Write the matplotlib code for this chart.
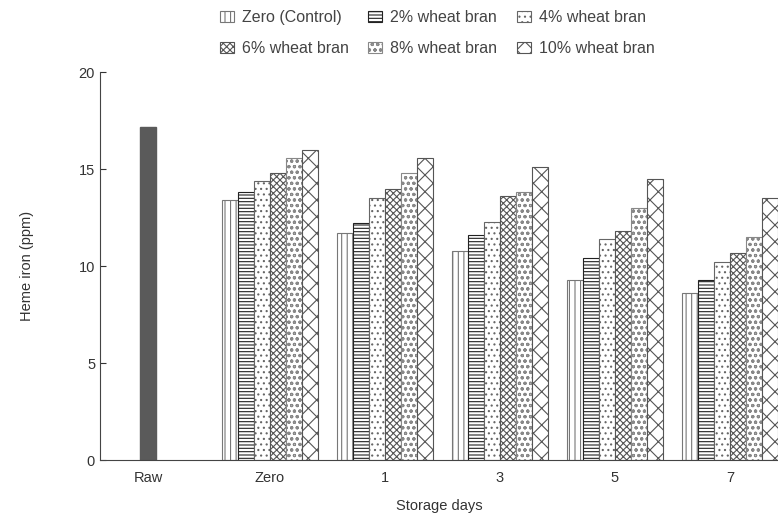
import numpy as np
import matplotlib
matplotlib.use("Agg")
import matplotlib.pyplot as plt

plt.rcParams['font.family'] = ['Liberation Sans', 'DejaVu Sans']
plt.rcParams['hatch.linewidth'] = 0.8

# data
days = ['Zero', '1', '3', '5', '7']
raw_value = 17.2
series = ['Zero (Control)', '2% wheat bran', '4% wheat bran',
          '6% wheat bran', '8% wheat bran', '10% wheat bran']
control = [13.4, 11.7, 10.8, 9.3, 8.6]
bran2 = [13.8, 12.2, 11.6, 10.4, 9.3]
bran4 = [14.4, 13.5, 12.3, 11.4, 10.2]
bran6 = [14.8, 14.0, 13.6, 11.8, 10.7]
bran8 = [15.6, 14.8, 13.8, 13.0, 11.5]
bran10 = [16.0, 15.6, 15.1, 14.5, 13.5]

values = [control, bran2, bran4, bran6, bran8, bran10]
hatches = ['|||', '-----', '...', 'xxxxx', 'ooo', 'xx']
edges = ['#777777', '#222222', '#666666', '#555555', '#888888', '#555555']

fig = plt.figure(figsize=(7.78, 5.27), dpi=100)
ax = fig.add_axes([0.1285, 0.127, 0.8715, 0.736])

width = 0.14
x = np.arange(1, len(days) + 1)
raw_x = -0.06
ax.bar(raw_x, raw_value, width=width, color='#5a5a5a', edgecolor='#5a5a5a')
handles = []
for i, (vals, h, ec) in enumerate(zip(values, hatches, edges)):
    offs = (i - 2.5) * width
    plt.rcParams['hatch.color'] = ec
    b = ax.bar(x + offs, vals, width=width, color='white', edgecolor=ec,
               hatch=h, linewidth=0.8, label=series[i])
    handles.append(b)

ax.set_xlim(-0.478, 5.418)
ax.set_ylim(0, 20)
ax.set_yticks([0, 5, 10, 15, 20])
ax.set_xticks([raw_x] + list(x))
ax.set_xticklabels(['Raw'] + days)
ax.tick_params(axis='y', direction='in', length=4, labelsize=10.5, colors='#333333')
ax.tick_params(axis='x', length=0, pad=8, labelsize=10.5, colors='#333333')
for s in ['top', 'right']:
    ax.spines[s].set_visible(False)
ax.spines['left'].set_color('#444444')
ax.spines['bottom'].set_color('#444444')

ax.set_ylabel('Heme iron (ppm)', fontsize=10.5, color='#333333', labelpad=32)
ax.set_xlabel('Storage days', fontsize=10.5, color='#333333', labelpad=10)

# legend fills row by row in the reference
order = [0, 3, 1, 4, 2, 5]
fig.legend([handles[k] for k in order], [series[k] for k in order],
           loc='upper center', bbox_to_anchor=(0.562, 1.008), ncol=3, frameon=False,
           fontsize=11.5, handlelength=0.9, handleheight=0.7, columnspacing=1.2,
           labelspacing=1.0, handletextpad=0.5, labelcolor='#444444')

fig.savefig('out.png', dpi=100)
